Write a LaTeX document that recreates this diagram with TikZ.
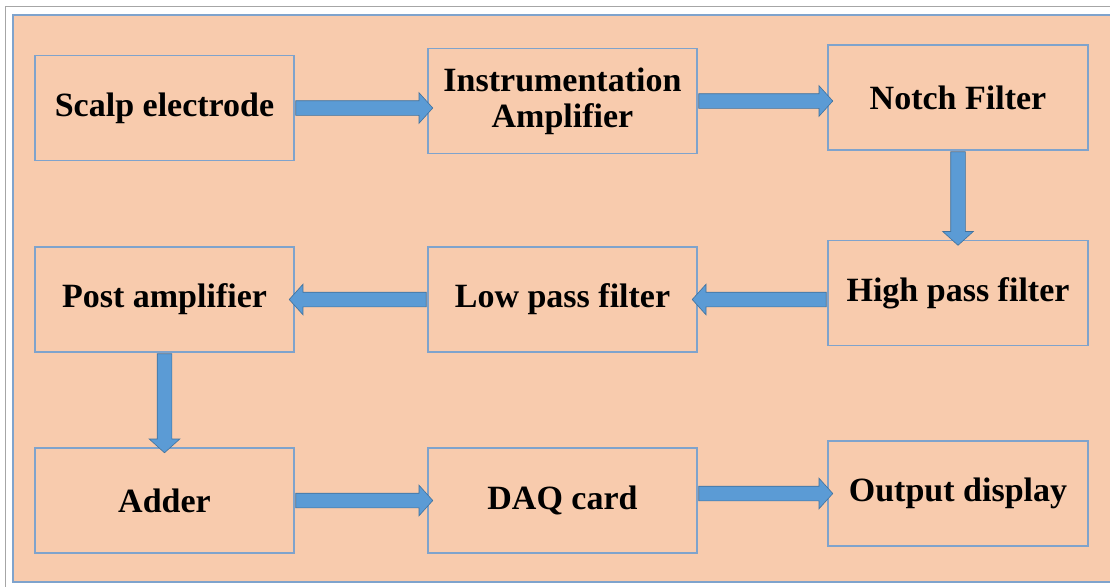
\documentclass[tikz,border=0pt]{standalone}
\usepackage{fontspec}
\setmainfont{Liberation Serif}
\usetikzlibrary{shapes.arrows,calc}

\definecolor{peach}{HTML}{F8CBAD}
\definecolor{boxedge}{HTML}{7FA3CC}
\definecolor{flowblue}{HTML}{5B9BD5}
\definecolor{flowedge}{HTML}{41719C}

\begin{document}
\begin{tikzpicture}[x=1pt,y=-1pt,
                    stage/.style={draw=boxedge,line width=1.2pt,fill=peach,
                                  align=center,font=\fontsize{34}{36}\selectfont\bfseries,
                                  minimum width=259pt,minimum height=105pt,inner sep=0pt,
                                  outer sep=0pt},
                    flowarrow/.style={single arrow,draw=flowedge,fill=flowblue,line width=0.6pt,
                                      single arrow head extend=8pt,single arrow tip angle=96,
                                      inner xsep=0pt,inner ysep=7pt,outer sep=0pt,
                                      text height=0pt,text depth=0pt},
                    flow/.style={to path={
                      let \p1=(\tikztostart), \p2=(\tikztotarget),
                          \n1={veclen(\x2-\x1,\y2-\y1)}, \n2={atan2(\y2-\y1,\x2-\x1)}
                      in node[flowarrow,minimum height=\n1+3pt,rotate=\n2]
                         at ({(\x1+\x2)/2},{(\y1+\y2)/2}) {}}}]
  \useasboundingbox (0,0) rectangle (1110,586);
  \fill[white] (0,0) rectangle (1110,586);
  \draw[gray!70,line width=1pt] (5,600) -- (5,7) -- (1120,7);
  \draw[boxedge,line width=1.2pt,fill=peach] (13,582) rectangle (1125,15);
  % first row
  \node[stage] (scalp) at (164.5,108) {Scalp electrode};
  \node[stage,minimum width=269pt] (inamp) at (562.5,101) {Instrumentation\\Amplifier};
  \node[stage,minimum width=260pt] (notch) at (958,97.5) {Notch Filter};
  % second row
  \node[stage] (post) at (164.5,299.5) {Post amplifier};
  \node[stage,minimum width=269pt] (lowpass) at (562.5,299.5) {Low pass filter};
  \node[stage,minimum width=260pt] (highpass) at (958,293) {High pass filter};
  % third row
  \node[stage] (adder) at (164.5,500.5) {Adder};
  \node[stage,minimum width=269pt] (daq) at (562.5,500.5) {DAQ card};
  \node[stage,minimum width=260pt] (display) at (958,493.5) {Output display};
  % connectors
  \path (scalp.east) to[flow] (inamp.west |- scalp.east);
  \path (inamp.east) to[flow] (notch.west |- inamp.east);
  \path (notch.south) to[flow] (notch.south |- highpass.north);
  \path (highpass.west |- lowpass.west) to[flow] (lowpass.east);
  \path (lowpass.west) to[flow] (post.east);
  \path (post.south) to[flow] (post.south |- adder.north);
  \path (adder.east) to[flow] (daq.west);
  \path (daq.east |- display.west) to[flow] (display.west);
\end{tikzpicture}
\end{document}
